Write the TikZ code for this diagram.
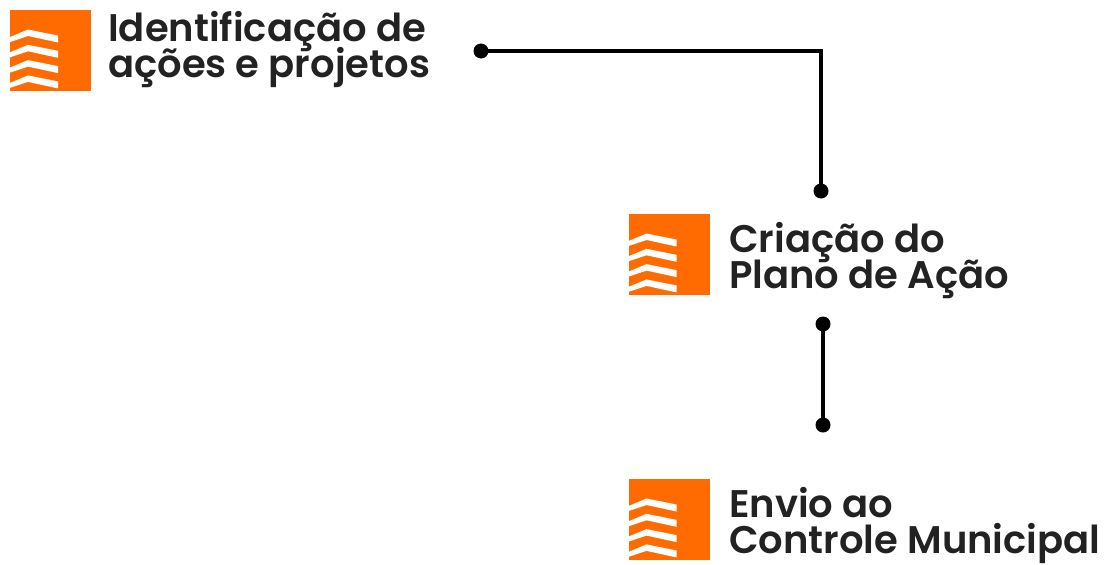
\documentclass[tikz,border=0pt]{standalone}
\usepackage{fontspec}
\setmainfont{Poppins SemiBold}
\usetikzlibrary{positioning}

\definecolor{laranja}{HTML}{FF6B00}
\definecolor{texto}{HTML}{222222}

\tikzset{
  icone/.style={fill=laranja, minimum size=81pt, inner sep=0pt, outer sep=0pt},
  etapa/.style={anchor=base west, align=left, text=texto, inner sep=0pt,
    font=\fontsize{38.5}{35.5}\selectfont\setlength{\lineskiplimit}{-50pt}},
  ligacao/.style={line width=3.8pt, black},
}

\begin{document}
\begin{tikzpicture}[x=1pt,y=-1pt]
        \useasboundingbox (0,0) rectangle (1112,565);
        \node[icone] (ident icon) at (50.5,50) {};
        \node[icone] (plano icon) at (669,254) {};
        \node[icone] (envio icon) at (669,519) {};
        \foreach \ic in {ident icon, plano icon, envio icon} {
            \foreach \k in {0,...,3} {
                \fill[white,shift={(\ic.north west)}]
                    (0,27.5+15.3*\k) -- (18,20+15.3*\k) -- (48,26+15.3*\k) -- (48,33+15.3*\k)
                    -- (18,26.5+15.3*\k) -- (0,32.5+15.3*\k) -- cycle;
            }
        }
        % ancora na linha de base da ultima linha
        \node[etapa] (ident) at (108,77) {Identificação de\\ações e projetos};
        \node[etapa] (plano) at (729,288) {Criação do\\Plano de Ação};
        \node[etapa] (envio) at (729,553) {Envio ao\\Controle Municipal};
        \coordinate (a1) at (481,51);
        \coordinate (a2) at (821,191);
        \coordinate (b1) at (823,324);
        \coordinate (b2) at (823,425);
        \draw[ligacao] (a1) -- (a1 -| a2) -- (a2);
        \draw[ligacao] (b1) -- (b2);
        \foreach \p in {a1,a2,b1,b2}
            \fill (\p) circle (7.5);
    \end{tikzpicture}
\end{document}
